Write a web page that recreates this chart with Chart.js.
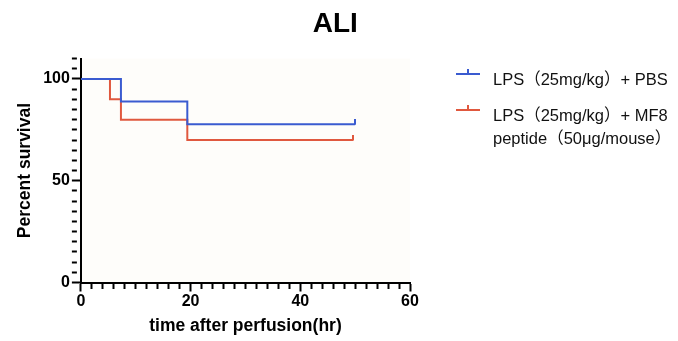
<!DOCTYPE html>
<html>
<head>
<meta charset="utf-8">
<title>ALI</title>
<script src="https://cdn.jsdelivr.net/npm/chart.js@4.4.1/dist/chart.umd.min.js"></script>
<style>
	html, body { margin: 0; padding: 0; background: #ffffff; }
	#wrap { position: relative; width: 678px; height: 341px; }
	#legend { position: absolute; left: 0; top: 0; font-family: "Liberation Sans", Arial, "Noto Sans CJK SC", sans-serif; font-size: 16.5px; color: #111; }
	.leg-line { position: absolute; left: 0; line-height: 23px; white-space: nowrap; }
	.leg-sym { position: absolute; width: 24px; height: 2px; }
	.leg-tick { position: absolute; left: 11px; top: -4px; width: 2px; height: 5px; }
</style>
</head>
<body>
<div id="wrap">
	<canvas id="survival-chart" width="678" height="341"></canvas>
	<div id="legend"></div>
</div>
<script>
// Kaplan-Meier steps
var pbsTimes = [0, 7.3, 19.4, 50];
var pbsSurvival = [100, 88.9, 77.8, 77.8];
var mf8Times = [0, 5.3, 7.3, 19.4, 49.6];
var mf8Survival = [100, 90, 80, 70, 70];

var pbsLabel = ['LPS（25mg/kg）+ PBS'];
var mf8Label = ['LPS（25mg/kg）+ MF8', 'peptide（50μg/mouse）'];

var xMajorTicks = [0, 20, 40, 60];
var yMajorTicks = [0, 50, 100];

var blue = '#3a5bd0';
var red = '#e0583e';
var fontFamily = '"Liberation Sans", Arial, Helvetica, sans-serif';

var plotBackground = {
	id: 'plotBackground',
	beforeDraw: function (chart) {
		var a = chart.chartArea;
		chart.ctx.save();
		chart.ctx.fillStyle = '#fefdfa';
		chart.ctx.fillRect(a.left, a.top, a.right - a.left, a.bottom - a.top);
		chart.ctx.restore();
	}
};

chartBuilder();

function chartBuilder() {
	var datasets = [
		survivalDataset(pbsLabel, pbsTimes, pbsSurvival, blue),
		survivalDataset(mf8Label, mf8Times, mf8Survival, red)
	];
	var ctx = document.getElementById('survival-chart');
	new Chart(ctx, chartSetting(datasets));
	legendBuilder(datasets);
}

function survivalDataset(label, times, values, color) {
	var points = [];
	for (var i = 0; i < times.length; i++) {
		points.push({x: times[i], y: values[i]});
	}
	var last = points.length - 1;
	return {
		label: label,
		data: points,
		borderColor: color,
		backgroundColor: color,
		borderWidth: 2,
		stepped: 'before',
		fill: false,
		pointStyle: censorMark(color),
		pointRadius: function (c) { return c.dataIndex === last ? 3 : 0; }
	};
}

// small upward tick for the censored end of each curve
function censorMark(color) {
	var c = document.createElement('canvas');
	c.width = 2;
	c.height = 11;
	var g = c.getContext('2d');
	g.fillStyle = color;
	g.fillRect(0, 0, 2, 6);
	return c;
}

// long ticks on labelled values, short ones elsewhere
function tickDash(majors) {
	return function (c) {
		var v = c.tick ? c.tick.value : null;
		return majors.indexOf(v) >= 0 ? [] : [5, 40];
	};
}

function tickLabel(majors) {
	return function (value) {
		return majors.indexOf(value) >= 0 ? String(value) : '';
	};
}

function chartSetting(datasets) {
	return {
		type: 'line',
		data: { datasets: datasets },
		plugins: [plotBackground],
		options: {
			responsive: false,
			animation: false,
			events: [],
			layout: { padding: { left: 4.7, right: 12, top: 0, bottom: 2 } },
			plugins: {
				legend: { display: false },
				tooltip: { enabled: false },
				title: {
					display: true,
					text: 'ALI',
					color: '#000',
					font: { family: fontFamily, size: 28, weight: 'bold' },
					padding: { top: 7, bottom: 18 }
				}
			},
			scales: {
				x: {
					type: 'linear',
					min: 0,
					max: 60,
					border: { color: '#000', width: 2 },
					grid: {
						drawOnChartArea: false,
						tickLength: 9,
						tickColor: '#000',
						tickWidth: 2,
						tickBorderDash: tickDash(xMajorTicks)
					},
					ticks: {
						stepSize: 2,
						autoSkip: false,
						maxRotation: 0,
						padding: 0,
						color: '#000',
						font: { family: fontFamily, size: 16, weight: 'bold' },
						callback: tickLabel(xMajorTicks)
					},
					title: {
						display: true,
						text: 'time after perfusion(hr)',
						color: '#000',
						font: { family: fontFamily, size: 17.5, weight: 'bold' },
						padding: { top: 5.3, bottom: 2 }
					}
				},
				y: {
					min: 0,
					max: 110,
					border: { color: '#000', width: 2 },
					grid: {
						drawOnChartArea: false,
						tickLength: 9,
						tickColor: '#000',
						tickWidth: 2,
						tickBorderDash: tickDash(yMajorTicks)
					},
					ticks: {
						stepSize: 5,
						autoSkip: false,
						padding: 2,
						color: '#000',
						font: { family: fontFamily, size: 16, weight: 'bold' },
						callback: tickLabel(yMajorTicks)
					},
					title: {
						display: true,
						text: 'Percent survival',
						color: '#000',
						font: { family: fontFamily, size: 17.5, weight: 'bold' },
						padding: { top: 10.3, bottom: 5.2 }
					}
				},
				// empty space on the right where the legend sits
				legendSpace: {
					position: 'right',
					grid: { display: false, drawTicks: false },
					border: { display: false },
					ticks: { display: false },
					afterFit: function (scale) { scale.width = 256; }
				}
			}
		}
	};
}

// html legend so the second label can wrap on two lines
function legendBuilder(datasets) {
	var box = document.getElementById('legend');
	var rowTops = [68, 104];
	for (var i = 0; i < datasets.length; i++) {
		var ds = datasets[i];
		var sym = document.createElement('div');
		sym.className = 'leg-sym';
		sym.style.left = '456px';
		sym.style.top = (rowTops[i] + 5) + 'px';
		sym.style.background = ds.borderColor;
		var tick = document.createElement('div');
		tick.className = 'leg-tick';
		tick.style.background = ds.borderColor;
		sym.appendChild(tick);
		box.appendChild(sym);
		for (var j = 0; j < ds.label.length; j++) {
			var line = document.createElement('div');
			line.className = 'leg-line';
			line.style.left = '493px';
			line.style.top = (rowTops[i] + j * 23) + 'px';
			line.textContent = ds.label[j];
			box.appendChild(line);
		}
	}
}
</script>
</body>
</html>
